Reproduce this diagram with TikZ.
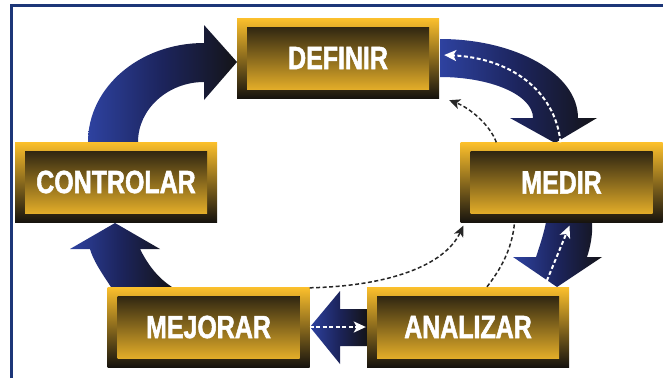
\documentclass[tikz,border=0pt]{standalone}
\usepackage{fontspec}
\usetikzlibrary{arrows.meta,backgrounds}
\newfontfamily\stagefont{Liberation Sans}[FakeStretch=0.78,BoldFeatures={FakeBold=1.6}]
\definecolor{stagegold}{RGB}{252,192,44}
\definecolor{stagedark}{RGB}{22,19,14}
\definecolor{cycleblue}{RGB}{46,66,160}
\definecolor{cyclenavy}{RGB}{28,36,92}
\definecolor{cycledark}{RGB}{20,20,24}
\definecolor{framecol}{RGB}{28,54,120}

\begin{document}
\begin{tikzpicture}[x=1pt,y=-1pt]
	% Styles for the boxes and arrows
	\tikzset{stage/.style={minimum width=202pt, minimum height=80pt, inner sep=0pt,
		top color=stagegold, bottom color=stagedark, text=white,
		font=\stagefont\bfseries\fontsize{32}{32}\selectfont,
		path picture={\fill[top color=stagedark, bottom color=stagegold]
			([shift={(10pt,-9pt)}]path picture bounding box.north west) rectangle
			([shift={(-10pt,9pt)}]path picture bounding box.south east);}}}
	\tikzset{bigarrow/.style={left color=cycleblue, right color=cycledark, middle color=cyclenavy}}
	\tikzset{backflow/.style={black!85, line width=1.5pt, dash pattern=on 4pt off 2.5pt,
		-{Stealth[length=11pt,width=10pt,inset=3pt]}}}
	\tikzset{whiteflow/.style={white, line width=2pt, dash pattern=on 4pt off 2.5pt,
		-{Stealth[length=12pt,width=11pt,inset=3pt]}}}

	\useasboundingbox (0,0) rectangle (663,378);
	\draw[framecol, line width=3pt] (11,378) -- (11,5.5) -- (663,5.5);

	% the five stages
	\node[stage] (def) at (338,58) {DEFINIR};
	\node[stage] (med) at (561.5,182.5) {MEDIR};
	\node[stage] (ana) at (468,327) {ANALIZAR};
	\node[stage] (mej) at (208.5,327) {MEJORAR};
	\node[stage] (con) at (116,182) {CONTROLAR};

	% the big blue arrows
	\begin{scope}[on background layer]
	\path[bigarrow] (88,142) .. controls (88,87) and (140,43) .. (204,43) -- (204,25) -- (237,62)
		-- (204,100) -- (204,82) .. controls (168,82) and (138,109) .. (138,142) -- cycle;
	\path[bigarrow] (440,39) .. controls (516,39) and (578,74) .. (578,118) -- (597,118) -- (555,143)
		-- (510,118) -- (533,118) .. controls (533,95) and (491,77) .. (440,77) -- cycle;
	\path[bigarrow] (546,222) -- (592,222) .. controls (593,235) and (590,248) .. (587,257) -- (602,257)
		-- (557,287) -- (513,257) -- (536,257) .. controls (540,245) and (544,233) .. (546,222) -- cycle;
	\path[bigarrow] (367,309) -- (340,309) -- (340,291) -- (310,327) -- (340,364) -- (340,346) -- (367,346) -- cycle;
	\path[bigarrow] (111,287) .. controls (101,272) and (93,260) .. (90,249) -- (70,249) -- (115,223)
		-- (160,249) -- (140,249) .. controls (148,265) and (158,278) .. (172,287) -- cycle;
	\end{scope}

	% dashed feedback lines
	\draw[backflow] ([xshift=36pt]med.north west) .. controls (490,125) and (470,108) .. ([xshift=10pt,yshift=-2pt]def.south east);
	\draw[backflow] ([yshift=-1pt]mej.north east) .. controls (390,286) and (445,265) .. ([xshift=3pt,yshift=-3pt]med.south west);
	\draw[backflow, -] ([xshift=19pt]ana.north) .. controls (500,270) and (512,250) .. ([xshift=-47pt]med.south);
	\draw[whiteflow] ([xshift=-1pt]med.north) .. controls (555,90) and (510,58) .. ([xshift=5pt,yshift=3pt]def.east);
	\draw[whiteflow] ([xshift=180pt,yshift=6pt]ana.north west) -- ([xshift=8pt,yshift=-3pt]med.south);
	\draw[whiteflow] (mej.east) -- ([xshift=-1pt]ana.west);
\end{tikzpicture}
\end{document}
